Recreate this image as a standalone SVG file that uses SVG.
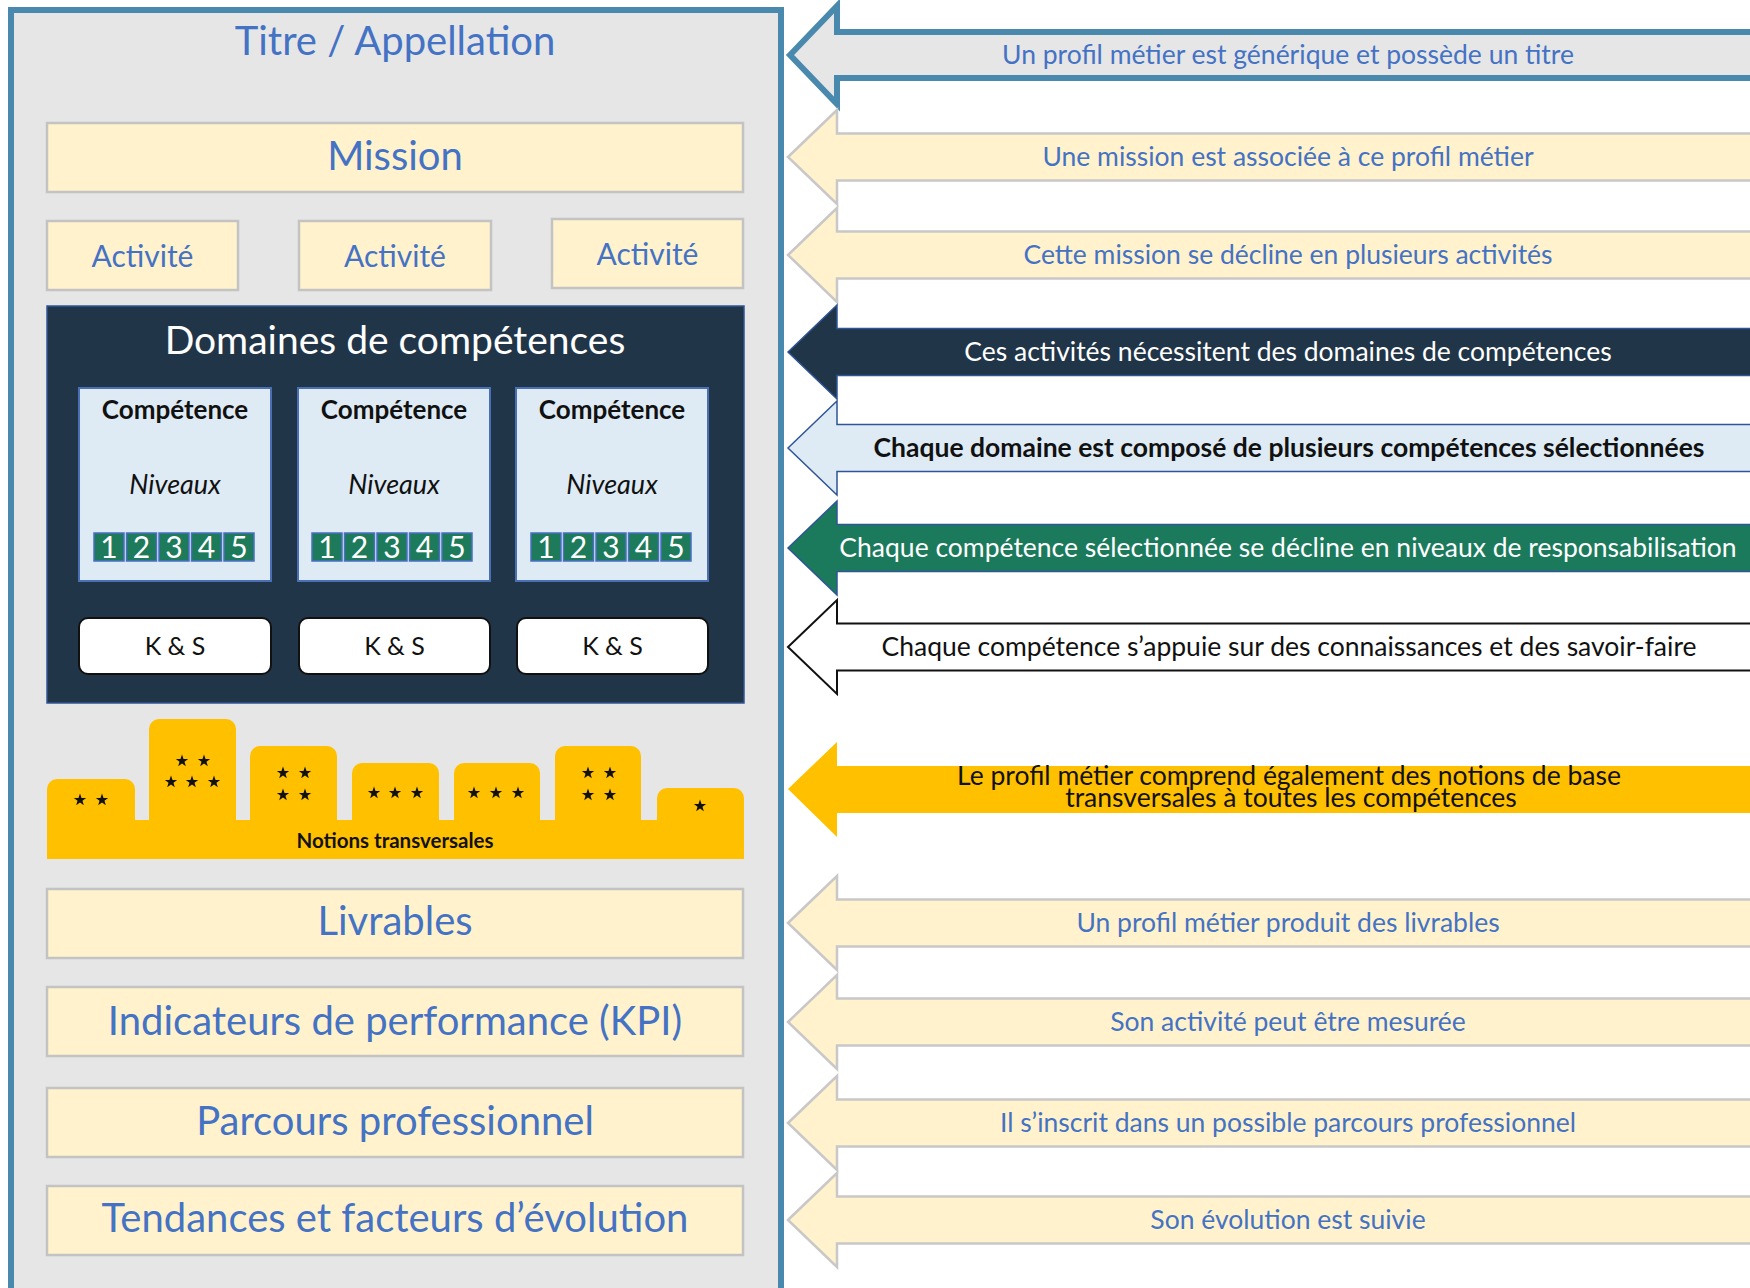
<svg xmlns="http://www.w3.org/2000/svg" width="1750" height="1288" viewBox="0 0 1750 1288">
<defs>
<style>
text{font-family:Lato,"Open Sans","Liberation Sans",sans-serif;text-anchor:middle}
.lbox{fill:#fff2cc;stroke:#c3c3c3;stroke-width:2.5}
.blue{fill:#4472c4}
.big{font-size:40px}
.act{font-size:30px}
.comp{fill:#deebf5;stroke:#4a6fb5;stroke-width:2}
.ct{font-size:26px;font-weight:bold;fill:#111}
.niv{font-size:27px;font-style:italic;fill:#111}
.cell{fill:#1d7b5b;stroke:#4a6fc4;stroke-width:1.5}
.dig{font-size:30px;fill:#fff}
.ks{fill:#fff;stroke:#111;stroke-width:2}
.kst{font-size:25px;fill:#111}
.bld{fill:#ffc000}
.at{font-size:26.5px}
.ylarrow{fill:#fff2cc;stroke:#c8c8c8;stroke-width:2.5}
</style>
<path id="star" d="M0,-6.5 L1.53,-2.1 L6.18,-2.01 L2.47,0.8 L3.82,5.26 L0,2.6 L-3.82,5.26 L-2.47,0.8 L-6.18,-2.01 L-1.53,-2.1 Z" fill="#111"/>
</defs>
<rect width="1750" height="1288" fill="#ffffff"/>

<g id="panel">
<rect x="11" y="10" width="770" height="1300" fill="#e6e6e6" stroke="#4a89ae" stroke-width="6"/>
</g>

<g id="title">
<text x="395" y="55" class="blue big">Titre / Appellation</text>
</g>

<g id="mission">
<rect class="lbox" x="47" y="123" width="696" height="69"/>
<text x="395" y="170" class="blue big">Mission</text>
</g>

<g id="activite-1">
<rect class="lbox" x="47" y="221" width="191" height="69"/>
<text x="142.5" y="267" class="blue act">Activité</text>
</g>
<g id="activite-2">
<rect class="lbox" x="299" y="221" width="192" height="69"/>
<text x="395" y="267" class="blue act">Activité</text>
</g>
<g id="activite-3">
<rect class="lbox" x="552" y="219" width="191" height="69"/>
<text x="647.5" y="265" class="blue act">Activité</text>
</g>

<g id="domaines">
<rect x="47" y="306" width="697" height="397" fill="#213548" stroke="#2f5597" stroke-width="1.5"/>
<text x="395" y="354" fill="#ffffff" font-size="39">Domaines de compétences</text>
</g>

<g id="competence-1">
<rect class="comp" x="79" y="388" width="192" height="193"/>
<text x="175" y="419" class="ct">Compétence</text>
<text x="175" y="494" class="niv">Niveaux</text>
<rect class="cell" x="94" y="533" width="30" height="28"/>
<rect class="cell" x="126.5" y="533" width="30" height="28"/>
<rect class="cell" x="159" y="533" width="30" height="28"/>
<rect class="cell" x="191.5" y="533" width="30" height="28"/>
<rect class="cell" x="224" y="533" width="30" height="28"/>
<text x="109" y="558" class="dig">1</text>
<text x="141.5" y="558" class="dig">2</text>
<text x="174" y="558" class="dig">3</text>
<text x="206.5" y="558" class="dig">4</text>
<text x="239" y="558" class="dig">5</text>
</g>
<g id="competence-2">
<rect class="comp" x="298" y="388" width="192" height="193"/>
<text x="394" y="419" class="ct">Compétence</text>
<text x="394" y="494" class="niv">Niveaux</text>
<rect class="cell" x="312" y="533" width="30" height="28"/>
<rect class="cell" x="344.5" y="533" width="30" height="28"/>
<rect class="cell" x="377" y="533" width="30" height="28"/>
<rect class="cell" x="409.5" y="533" width="30" height="28"/>
<rect class="cell" x="442" y="533" width="30" height="28"/>
<text x="327" y="558" class="dig">1</text>
<text x="359.5" y="558" class="dig">2</text>
<text x="392" y="558" class="dig">3</text>
<text x="424.5" y="558" class="dig">4</text>
<text x="457" y="558" class="dig">5</text>
</g>
<g id="competence-3">
<rect class="comp" x="516" y="388" width="192" height="193"/>
<text x="612" y="419" class="ct">Compétence</text>
<text x="612" y="494" class="niv">Niveaux</text>
<rect class="cell" x="531" y="533" width="30" height="28"/>
<rect class="cell" x="563.5" y="533" width="30" height="28"/>
<rect class="cell" x="596" y="533" width="30" height="28"/>
<rect class="cell" x="628.5" y="533" width="30" height="28"/>
<rect class="cell" x="661" y="533" width="30" height="28"/>
<text x="546" y="558" class="dig">1</text>
<text x="578.5" y="558" class="dig">2</text>
<text x="611" y="558" class="dig">3</text>
<text x="643.5" y="558" class="dig">4</text>
<text x="676" y="558" class="dig">5</text>
</g>

<g id="ks-1">
<rect class="ks" x="79" y="618" width="192" height="56" rx="9"/>
<text x="175" y="655" class="kst">K &amp; S</text>
</g>
<g id="ks-2">
<rect class="ks" x="299" y="618" width="191" height="56" rx="9"/>
<text x="394.5" y="655" class="kst">K &amp; S</text>
</g>
<g id="ks-3">
<rect class="ks" x="517" y="618" width="191" height="56" rx="9"/>
<text x="612.5" y="655" class="kst">K &amp; S</text>
</g>

<g id="notions">
<rect class="bld" x="47" y="779" width="88" height="60" rx="10"/>
<rect class="bld" x="149" y="719" width="87" height="120" rx="10"/>
<rect class="bld" x="250" y="746" width="87" height="90" rx="10"/>
<rect class="bld" x="352" y="763" width="87" height="70" rx="10"/>
<rect class="bld" x="454" y="763" width="86" height="70" rx="10"/>
<rect class="bld" x="555" y="746" width="86" height="90" rx="10"/>
<rect class="bld" x="657" y="788" width="87" height="50" rx="10"/>
<rect class="bld" x="47" y="820" width="697" height="39"/>
<use href="#star" x="80" y="800"/><use href="#star" x="102" y="800"/>
<use href="#star" x="182" y="761"/><use href="#star" x="204" y="761"/>
<use href="#star" x="171" y="782"/><use href="#star" x="192" y="782"/><use href="#star" x="214" y="782"/>
<use href="#star" x="283" y="773"/><use href="#star" x="305" y="773"/>
<use href="#star" x="283" y="795"/><use href="#star" x="305" y="795"/>
<use href="#star" x="374" y="793"/><use href="#star" x="395" y="793"/><use href="#star" x="417" y="793"/>
<use href="#star" x="474" y="793"/><use href="#star" x="496" y="793"/><use href="#star" x="518" y="793"/>
<use href="#star" x="588" y="773"/><use href="#star" x="610" y="773"/>
<use href="#star" x="588" y="795"/><use href="#star" x="610" y="795"/>
<use href="#star" x="700" y="806"/>
<text x="395" y="848" font-size="20.5" font-weight="bold" fill="#111">Notions transversales</text>
</g>

<g id="livrables">
<rect class="lbox" x="47" y="889" width="696" height="69"/>
<text x="395" y="935" class="blue big">Livrables</text>
</g>
<g id="kpi">
<rect class="lbox" x="47" y="987" width="696" height="69"/>
<text x="395" y="1035" class="blue big">Indicateurs de performance (KPI)</text>
</g>
<g id="parcours">
<rect class="lbox" x="47" y="1088" width="696" height="69"/>
<text x="395" y="1135" class="blue big">Parcours professionnel</text>
</g>
<g id="tendances">
<rect class="lbox" x="47" y="1186" width="696" height="69"/>
<text x="395" y="1232" class="blue big">Tendances et facteurs d’évolution</text>
</g>

<g id="arrows">
<g id="arrow-titre">
<path d="M790,55 L837,6 L837,32 L1760,32 L1760,78 L837,78 L837,104 Z" fill="#e6e6e6" stroke="#4a89ae" stroke-width="6" stroke-linejoin="miter"/>
<text x="1288" y="64" class="blue at">Un profil métier est générique et possède un titre</text>
</g>
<g id="arrow-mission">
<path class="ylarrow" d="M788,157 L837,110 L837,133.5 L1760,133.5 L1760,180.5 L837,180.5 L837,204 Z"/>
<text x="1288" y="166" class="blue at">Une mission est associée à ce profil métier</text>
</g>
<g id="arrow-activites">
<path class="ylarrow" d="M788,255 L837,208 L837,231.5 L1760,231.5 L1760,278.5 L837,278.5 L837,302 Z"/>
<text x="1288" y="264" class="blue at">Cette mission se décline en plusieurs activités</text>
</g>
<g id="arrow-domaines">
<path d="M788,352 L837,305 L837,328.5 L1760,328.5 L1760,375.5 L837,375.5 L837,399 Z" fill="#213548" stroke="#2f5597" stroke-width="1.5"/>
<text x="1288" y="361" class="at" fill="#ffffff">Ces activités nécessitent des domaines de compétences</text>
</g>
<g id="arrow-competences">
<path d="M788,448 L837,401 L837,424.5 L1760,424.5 L1760,471.5 L837,471.5 L837,495 Z" fill="#deebf5" stroke="#2f5597" stroke-width="1.5"/>
<text x="1289" y="457" class="at" font-weight="bold" fill="#111">Chaque domaine est composé de plusieurs compétences sélectionnées</text>
</g>
<g id="arrow-niveaux">
<path d="M788,548 L837,501 L837,524.5 L1760,524.5 L1760,571.5 L837,571.5 L837,595 Z" fill="#1c7a5c" stroke="#2f5597" stroke-width="1.5"/>
<text x="1288" y="557" class="at" fill="#ffffff">Chaque compétence sélectionnée se décline en niveaux de responsabilisation</text>
</g>
<g id="arrow-ks">
<path d="M788,647 L837,600 L837,623.5 L1760,623.5 L1760,670.5 L837,670.5 L837,694 Z" fill="#ffffff" stroke="#111" stroke-width="2"/>
<text x="1289" y="656" class="at" fill="#111">Chaque compétence s’appuie sur des connaissances et des savoir-faire</text>
</g>
<g id="arrow-notions">
<path d="M788,789 L837,742 L837,766 L1760,766 L1760,813 L837,813 L837,837 Z" fill="#ffc000"/>
<text x="1289" y="785" class="at" fill="#111">Le profil métier comprend également des notions de base</text>
<text x="1291" y="807" class="at" fill="#111">transversales à toutes les compétences</text>
</g>
<g id="arrow-livrables">
<path class="ylarrow" d="M788,923 L837,876 L837,899.5 L1760,899.5 L1760,946.5 L837,946.5 L837,970 Z"/>
<text x="1288" y="932" class="blue at">Un profil métier produit des livrables</text>
</g>
<g id="arrow-kpi">
<path class="ylarrow" d="M788,1022 L837,975 L837,998.5 L1760,998.5 L1760,1045.5 L837,1045.5 L837,1069 Z"/>
<text x="1288" y="1031" class="blue at">Son activité peut être mesurée</text>
</g>
<g id="arrow-parcours">
<path class="ylarrow" d="M788,1123 L837,1076 L837,1099.5 L1760,1099.5 L1760,1146.5 L837,1146.5 L837,1170 Z"/>
<text x="1288" y="1132" class="blue at">Il s’inscrit dans un possible parcours professionnel</text>
</g>
<g id="arrow-evolution">
<path class="ylarrow" d="M788,1220 L837,1173 L837,1196.5 L1760,1196.5 L1760,1243.5 L837,1243.5 L837,1267 Z"/>
<text x="1288" y="1229" class="blue at">Son évolution est suivie</text>
</g>
</g>
</svg>
